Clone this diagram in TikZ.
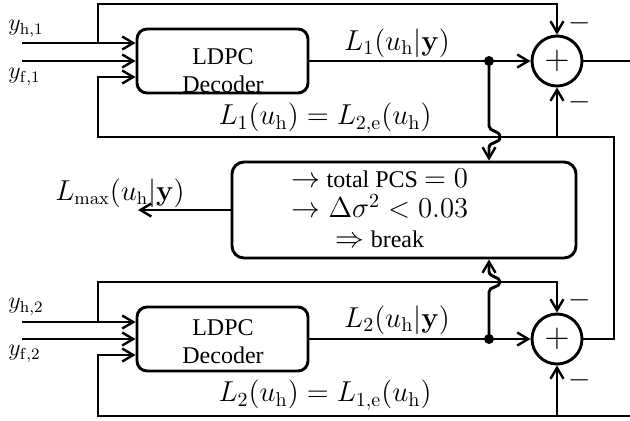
\documentclass[tikz,border=0pt]{standalone}
\usepackage[no-math]{fontspec}
\setmainfont{Liberation Serif}
\usetikzlibrary{arrows.meta,calc}
\newcommand{\lgm}[1]{{\fontsize{14}{13.75}\selectfont$#1$}}
\begin{document}
\begin{tikzpicture}[x=0.5pt,y=-0.5pt,
  every node/.style={font=\fontsize{12}{14}\selectfont},
  ln/.style={line width=1.45pt},
  arr/.style={ln,-{Straight Barb[length=5.5pt,width=6.5pt,line width=1.2pt]}},
  decbox/.style={draw,ln,rounded corners=5pt,minimum width=85.5pt,minimum height=32pt,inner sep=0pt},
  sumnode/.style={draw,ln,circle,minimum size=25pt,inner sep=0pt,font=\fontsize{17}{17}\selectfont},
  midbox/.style={draw,ln,rounded corners=6pt,minimum width=172pt,minimum height=48pt,inner sep=0pt},
  lbl/.style={inner sep=0pt},
  mlbl/.style={inner sep=0pt,font=\fontsize{14}{16}\selectfont},
  dotn/.style={circle,fill,inner sep=0pt,minimum size=5pt}]
\useasboundingbox (0,0) rectangle (630,420);

% nodes
\node[decbox] (dec1) at (222.5,61) {};
\node[lbl,align=center] (dec1t) at (223,70.5) {LDPC\\Decoder};
\node[sumnode] (sum1) at (557,61) {$+$};
\node[midbox] (mbox) at (404,210) {};
\node[lbl,align=center,font=\fontsize{12}{13.75}\selectfont] (mboxt) at (380,208)
  {\lgm{\rightarrow} total PCS \lgm{=0}\\[1.5pt]\lgm{\rightarrow\Delta\sigma^2<0.03}\\[1pt]\lgm{\Rightarrow} break};
\node[decbox] (dec2) at (222.5,339) {};
\node[lbl,align=center] (dec2t) at (223,341.5) {LDPC\\Decoder};
\node[sumnode] (sum2) at (557,339) {$+$};

% coordinates
\coordinate (yh1) at (22,43);
\coordinate (yf1) at (22,61);
\coordinate (lp1) at (98,43);
\coordinate (tl1) at (98,4);
\coordinate (fb1) at (98,77);
\coordinate (fbl1) at (98,137);
\coordinate (fbr) at (614,137);
\coordinate (out1) at (630,61);
\node[dotn] (dot1) at (489,61) {};

\coordinate (yh2) at (22,322);
\coordinate (yf2) at (22,339);
\coordinate (lp2) at (98,322);
\coordinate (tl2) at (98,282);
\coordinate (fb2) at (98,355);
\coordinate (bl2) at (98,416);
\coordinate (outb) at (630,416);
\node[dotn] (dot2) at (489,339) {};

\coordinate (lmaxend) at (138,210);

% labels
\node[lbl,anchor=west] (lyh1) at (8,29) {$y_{\mathrm{h},1}$};
\node[lbl,anchor=west] (lyf1) at (8,77) {$y_{\mathrm{f},1}$};
\node[lbl,anchor=west] (lyh2) at (8,307) {$y_{\mathrm{h},2}$};
\node[lbl,anchor=west] (lyf2) at (8,354) {$y_{\mathrm{f},2}$};
\node[mlbl] (l1y) at (397,43) {$L_1(u_\mathrm{h}|\mathbf{y})$};
\node[mlbl] (l2y) at (397,320) {$L_2(u_\mathrm{h}|\mathbf{y})$};
\node[mlbl] (l1e) at (325,118) {$L_1(u_\mathrm{h})=L_{2,\mathrm{e}}(u_\mathrm{h})$};
\node[mlbl] (l2e) at (325,395) {$L_2(u_\mathrm{h})=L_{1,\mathrm{e}}(u_\mathrm{h})$};
\node[lbl,font=\fontsize{13.3}{15}\selectfont] (lmax) at (120,193) {$L_\mathrm{max}(u_\mathrm{h}|\mathbf{y})$};
\node[mlbl] (m1) at (580,23) {$-$};
\node[mlbl] (m2) at (580,102) {$-$};
\node[mlbl] (m3) at (580,300) {$-$};
\node[mlbl] (m4) at (580,380) {$-$};

% upper branch
\draw[arr] (yh1) -- (yh1 -| dec1.west);
\draw[arr] (yf1) -- (yf1 -| dec1.west);
\draw[arr] (lp1) -- (tl1) -| (sum1.north);
\draw[arr] (dec1.east) -- (sum1.west);
\draw[ln] (sum1.east) -- (out1);
\draw[arr] (sum2.east) -| (fbr) -- (fbl1) -- (fb1) -- (fb1 -| dec1.west);
\draw[arr] (sum1.south |- fbr) -- (sum1.south);
\draw[arr] (dot1.center) -- (489,126) .. controls (489,132) and (500,130) .. (500,137)
  .. controls (500,144) and (489,141) .. (489,148) -- (dot1 |- mbox.north);

% lower branch
\draw[arr] (yh2) -- (yh2 -| dec2.west);
\draw[arr] (yf2) -- (yf2 -| dec2.west);
\draw[arr] (lp2) -- (tl2) -| (sum2.north);
\draw[arr] (dec2.east) -- (sum2.west);
\draw[arr] (outb) -- (bl2) -- (fb2) -- (fb2 -| dec2.west);
\draw[arr] (sum2.south |- outb) -- (sum2.south);
\draw[arr] (dot2.center) -- (489,292) .. controls (489,286) and (500,288) .. (500,282)
  .. controls (500,276) and (489,278) .. (489,271) -- (dot2 |- mbox.south);

% output
\draw[arr] (mbox.west) -- (lmaxend);
\end{tikzpicture}
\end{document}
